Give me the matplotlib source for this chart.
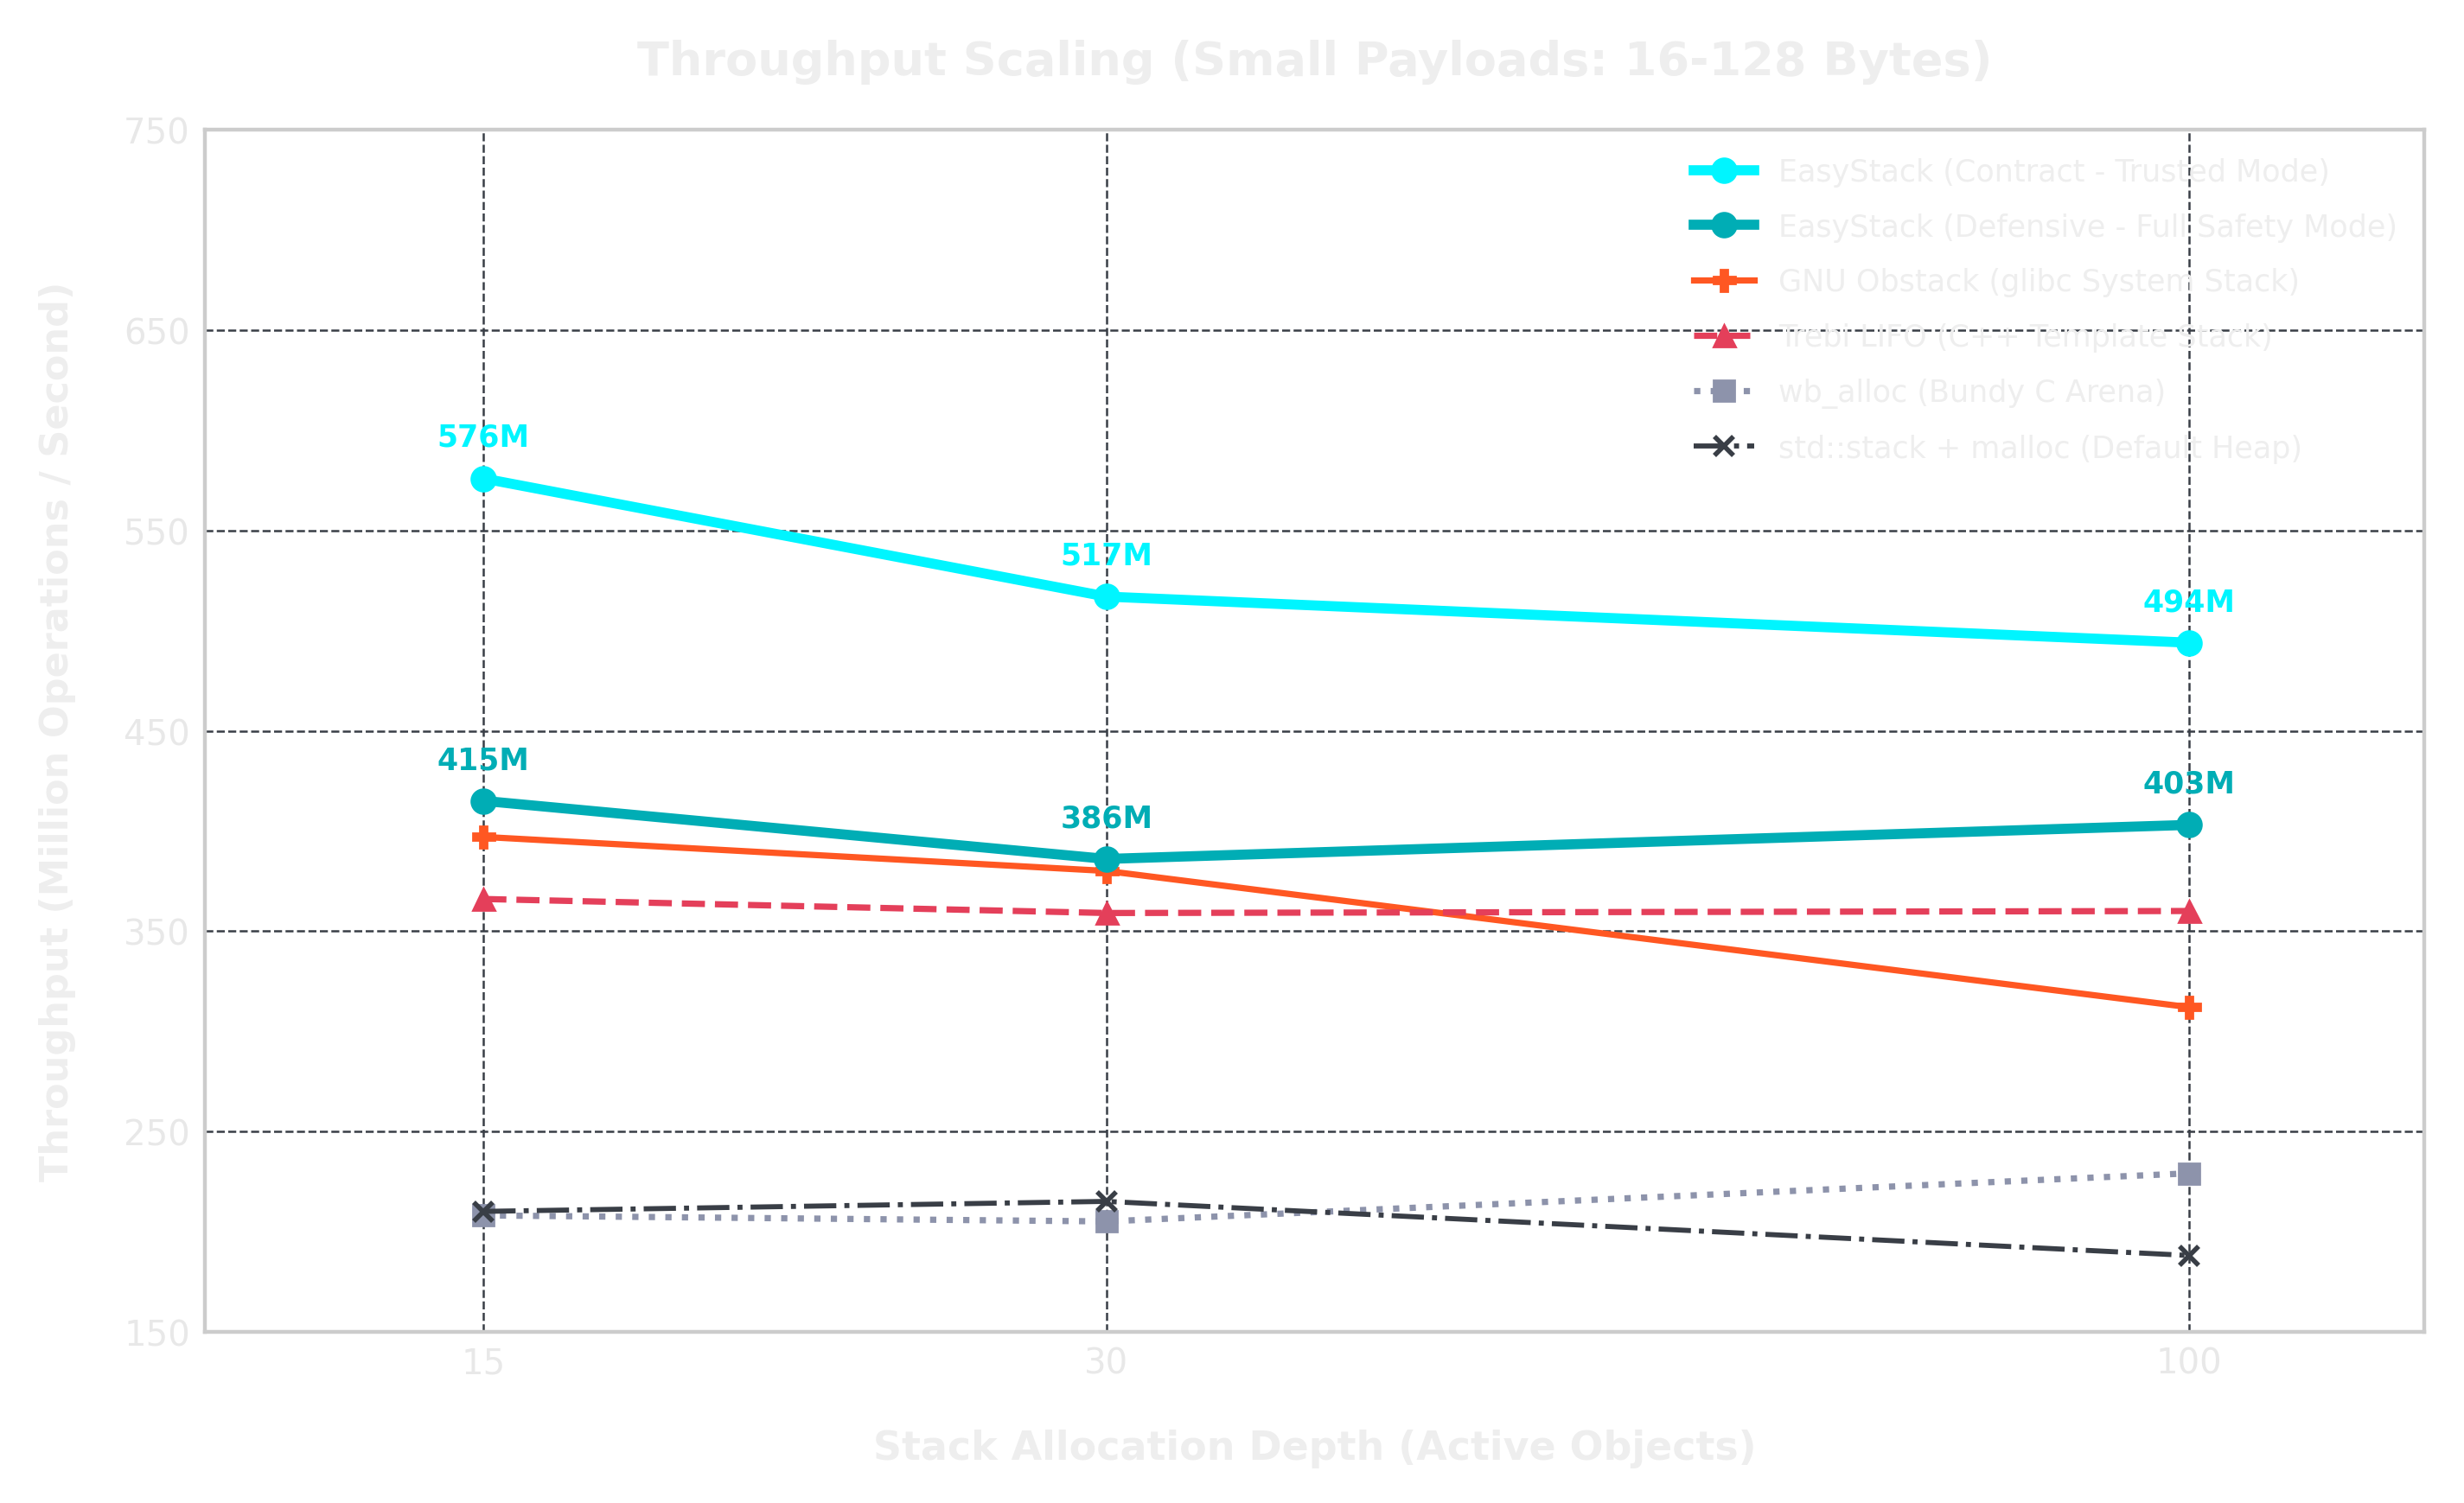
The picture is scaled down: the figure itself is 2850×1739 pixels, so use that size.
import matplotlib
matplotlib.use("Agg")
from matplotlib import pyplot as plt
from matplotlib.ticker import NullLocator, FixedLocator, NullFormatter

# stack depths (x) and throughput in million ops/sec
depths = [15, 30, 100]
contract = [576, 517, 494]
defensive = [415, 386, 403]
obstack = [397, 380, 312]
trebi = [366, 359, 360]
wb_alloc = [208, 205, 229]
std_stack = [210, 215, 188]

labels = ["EasyStack (Contract - Trusted Mode)",
          "EasyStack (Defensive - Full Safety Mode)",
          "GNU Obstack (glibc System Stack)",
          "Trebi LIFO (C++ Template Stack)",
          "wb_alloc (Bundy C Arena)",
          "std::stack + malloc (Default Heap)"]

txt = "#EEEEEE"

fig, ax = plt.subplots(figsize=(14.25, 8.7), dpi=200)
fig.patch.set_facecolor("white")
ax.set_facecolor("white")

ax.plot(depths, contract, color="#00F5FF", lw=4.2, marker="o", ms=10, label=labels[0], zorder=6)
ax.plot(depths, defensive, color="#00ADB5", lw=4.2, marker="o", ms=10, label=labels[1], zorder=5)
ax.plot(depths, obstack, color="#FF5722", lw=2.6, marker="P", ms=9, label=labels[2], zorder=4)
ax.plot(depths, trebi, color="#E43F5A", lw=2.6, ls="--", marker="^", ms=9, label=labels[3], zorder=4)
ax.plot(depths, wb_alloc, color="#8D93AB", lw=2.6, ls=":", marker="s", ms=8.5, label=labels[4], zorder=4)
ax.plot(depths, std_stack, color="#393E46", lw=2.1, ls="-.", marker="x", ms=8, mew=2, label=labels[5], zorder=4)

# value labels for the EasyStack lines
for x, y in zip(depths, contract):
    ax.annotate(f"{y}M", (x, y), xytext=(0, 11), textcoords="offset points",
                ha="center", va="bottom", color="#00F5FF", fontsize=12.5, fontweight="bold")
for x, y in zip(depths, defensive):
    ax.annotate(f"{y}M", (x, y), xytext=(0, 11), textcoords="offset points",
                ha="center", va="bottom", color="#00ADB5", fontsize=12.5, fontweight="bold")

ax.set_xscale("log")
ax.set_xlim(11, 130)
ax.xaxis.set_major_locator(FixedLocator(depths))
ax.xaxis.set_major_formatter(plt.FixedFormatter([str(d) for d in depths]))
ax.xaxis.set_minor_locator(NullLocator())
ax.xaxis.set_minor_formatter(NullFormatter())
ax.set_ylim(150, 750)
ax.set_yticks(range(150, 751, 100))

ax.grid(True, color="#393E46", ls="--", lw=0.9, zorder=0)
for s in ax.spines.values():
    s.set_color("#CCCCCC")
    s.set_linewidth(1.6)
ax.tick_params(colors=txt, labelsize=14.5, length=0, pad=6)
for lab in ax.get_xticklabels() + ax.get_yticklabels():
    lab.set_color("#E8E8E8")

ax.set_title("Throughput Scaling (Small Payloads: 16-128 Bytes)", color=txt,
             fontsize=19.5, fontweight="bold", pad=23)
ax.set_xlabel("Stack Allocation Depth (Active Objects)", color=txt,
              fontsize=16.5, fontweight="bold", labelpad=20)
ax.set_ylabel("Throughput (Million Operations / Second)", color=txt,
              fontsize=16, fontweight="bold", labelpad=20)

leg = ax.legend(loc="upper right", frameon=False, fontsize=12.6, labelspacing=0.85,
                borderaxespad=0.5)
for t in leg.get_texts():
    t.set_color(txt)

fig.subplots_adjust(left=0.083, right=0.984, top=0.913, bottom=0.114)
plt.savefig("out.png", dpi=200, facecolor=fig.get_facecolor())
